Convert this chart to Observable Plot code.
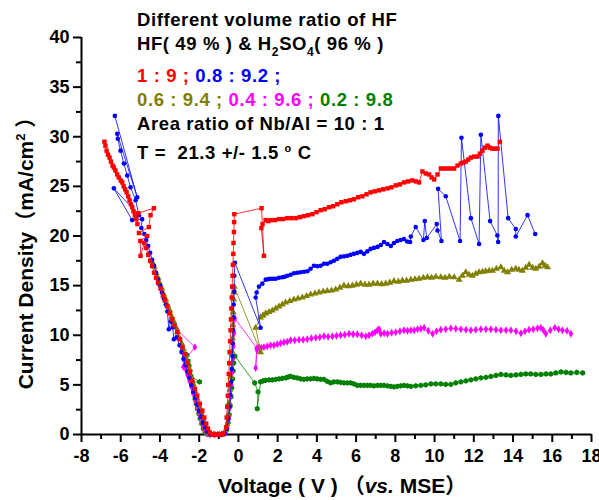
<!DOCTYPE html>
<html>
<head>
<meta charset="utf-8">
<script src="https://cdn.jsdelivr.net/npm/d3@7"></script>
<script src="https://cdn.jsdelivr.net/npm/@observablehq/plot@0.6"></script>
<style>
  html, body { margin: 0; padding: 0; background: #fff; }
  #chart svg { display: block; }
</style>
</head>
<body>
<div id="chart"></div>
<script>
// ---------- data: [voltage (V vs. MSE), current density (mA/cm2)] ----------
const ratio1_9 = [
[-6.83,29.5],[-6.78,29.1],[-6.72,28.6],[-6.65,28.2],[-6.57,27.9],[-6.5,27.5],[-6.42,27.1],[-6.35,26.9],[-6.27,26.6],[-6.18,26.2],
[-6.1,25.9],[-6.0,25.6],[-5.92,25.4],[-5.85,25.0],[-5.77,24.7],[-5.7,24.4],[-5.62,24.0],[-5.55,23.6],[-5.48,23.2],[-5.41,22.9],
[-5.35,22.5],[-5.28,22.1],[-5.22,21.7],[-5.15,21.2],[-5.1,22.3],[-4.31,22.8],[-4.48,22.1],[-4.57,20.9],[-5.07,20.3],[-4.65,20.0],
[-5.0,19.5],[-4.99,18.0],[-4.8,19.3],[-4.7,18.8],[-4.6,18.1],[-4.5,17.5],[-4.4,17.0],[-4.3,16.3],[-4.2,15.8],[-4.1,15.3],
[-3.97,14.7],[-3.85,14.0],[-3.75,13.5],[-3.63,12.9],[-3.5,12.2],[-3.38,11.6],[-3.26,11.0],[-3.12,10.3],[-2.98,9.6],[-2.85,8.8],
[-2.73,8.1],[-2.6,7.2],[-2.48,6.3],[-2.35,5.4],[-2.22,4.6],[-2.1,3.9],[-1.97,3.1],[-1.84,2.4],[-1.74,1.7],[-1.64,1.1],
[-1.55,0.6],[-1.45,0.2],[-1.35,0],[-1.2,0],[-1.05,0],[-0.9,0],[-0.75,0.1],[-0.62,0.7],[-0.6,1.7],[-0.57,2.8],
[-0.54,3.9],[-0.52,5.0],[-0.49,6.1],[-0.47,7.2],[-0.45,8.3],[-0.42,9.4],[-0.4,10.5],[-0.38,11.6],[-0.36,12.7],[-0.34,13.8],
[-0.32,14.9],[-0.3,16.0],[-0.28,17.1],[-0.26,18.2],[-0.25,19.3],[-0.23,20.4],[-0.22,21.4],[-0.21,22.2],[1.18,22.8],[1.3,18.0],
[1.17,20.8],[1.23,21.2],[1.39,21.6],[1.52,21.5],[1.64,21.6],[1.85,21.6],[2.07,21.7],[2.28,21.7],[2.49,21.8],[2.7,21.8],
[2.92,21.8],[3.13,21.9],[3.34,22.0],[3.55,22.1],[3.77,22.2],[3.98,22.4],[4.19,22.6],[4.4,22.7],[4.62,22.9],[4.83,23.0],
[5.04,23.2],[5.25,23.4],[5.47,23.5],[5.68,23.6],[5.89,23.7],[6.1,23.9],[6.32,24.0],[6.53,24.2],[6.74,24.4],[6.95,24.5],
[7.17,24.6],[7.38,24.7],[7.6,24.8],[7.8,24.9],[8.02,25.1],[8.23,25.2],[8.44,25.4],[8.65,25.5],[8.87,25.6],[9.05,25.5],
[9.21,25.4],[9.38,26.5],[9.55,26.3],[9.72,26.2],[9.85,25.9],[9.98,25.7],[10.15,26.2],[10.32,26.8],[10.49,26.8],[10.66,26.8],
[10.83,26.8],[11.0,26.8],[11.17,27.1],[11.34,27.3],[11.47,27.4],[11.59,27.5],[11.72,27.7],[11.85,27.9],[12.02,28.0],[12.19,28.0],
[12.31,28.3],[12.44,28.6],[12.57,28.9],[12.7,29.1],[12.82,28.9],[12.95,28.8],[13.08,28.8],[13.21,28.8],[13.33,29.5]
];

const ratio08_92 = [
[-6.3,32.1],[-5.16,23.9],[-6.18,30.3],[-6.15,29.8],[-6.01,28.6],[-5.84,27.3],[-5.67,26.1],[-5.5,24.9],[-5.24,23.6],[-5.07,22.1],
[-6.35,24.8],[-5.42,21.6],[-4.91,21.7],[-4.95,20.8],[-4.8,20.2],[-4.7,19.6],[-4.6,19.0],[-4.5,18.3],[-4.4,17.6],[-4.3,17.0],
[-4.2,16.3],[-4.1,15.6],[-4.0,15.0],[-3.9,14.3],[-3.8,13.7],[-3.7,13.1],[-3.62,12.4],[-3.55,10.6],[-3.45,11.4],[-3.35,10.8],
[-3.29,9.6],[-3.15,9.8],[-3.0,9.0],[-2.9,8.3],[-2.8,7.6],[-2.7,7.0],[-2.6,6.3],[-2.5,5.7],[-2.4,5.0],[-2.3,4.3],
[-2.2,3.7],[-2.1,3.0],[-2.0,2.4],[-1.9,1.8],[-1.8,1.2],[-1.7,0.7],[-1.6,0.3],[-1.45,0.05],[-1.3,0],[-1.1,0],
[-0.9,0],[-0.7,0.1],[-0.58,0.6],[-0.5,1.6],[-0.45,2.8],[-0.41,4.0],[-0.37,5.3],[-0.34,6.6],[-0.31,7.9],[-0.29,9.2],
[-0.27,10.5],[-0.25,11.8],[-0.24,13.1],[-0.22,14.4],[-0.21,16.0],[-0.18,17.3],[1.13,10.75],[0.88,13.8],[0.93,14.3],[1.05,14.9],
[1.22,15.2],[1.39,15.6],[1.52,15.65],[1.64,15.7],[1.77,15.7],[1.9,15.7],[2.07,15.8],[2.24,15.85],[2.36,15.9],[2.49,16.0],
[2.66,16.1],[2.83,16.25],[3.0,16.3],[3.17,16.35],[3.35,16.4],[3.52,16.45],[3.68,16.7],[3.85,17.0],[4.02,16.95],[4.19,17.0],
[4.36,17.2],[4.53,17.2],[4.7,17.35],[4.87,17.5],[5.04,17.7],[5.21,17.9],[5.38,17.95],[5.55,18.0],[5.72,18.1],[5.89,18.2],
[6.06,18.3],[6.23,18.4],[6.4,18.2],[6.57,18.45],[6.74,18.7],[6.91,18.8],[7.09,18.9],[7.26,19.1],[7.42,19.4],[7.6,19.2],
[7.77,19.0],[7.93,19.3],[8.1,19.5],[8.27,19.6],[8.44,19.7],[8.6,19.45],[8.75,19.4],[8.79,19.95],[9.04,20.9],[9.43,19.6],
[9.5,21.5],[9.6,19.8],[10.11,21.2],[10.15,20.55],[10.35,19.5],[10.18,24.75],[10.57,24.0],[11.3,19.5],[11.37,29.9],[11.85,21.8],
[12.27,19.2],[12.36,30.2],[12.83,21.5],[13.2,20.05],[13.24,19.4],[13.25,32.1],[13.75,21.8],[14.14,20.7],[14.14,19.95],[14.74,22.1],
[15.13,20.2]
];

const ratio06_94 = [
[-4.4,17.4],[-4.3,16.9],[-4.2,16.3],[-4.1,15.8],[-4.0,15.2],[-3.9,14.7],[-3.8,14.1],[-3.7,13.6],[-3.6,13.0],[-3.5,12.5],
[-3.4,11.9],[-3.3,11.4],[-3.2,10.8],[-3.1,10.3],[-3.0,9.7],[-2.9,9.2],[-2.8,8.6],[-2.7,8.0],[-2.6,7.3],[-2.5,6.6],
[-2.4,5.8],[-2.3,5.1],[-2.2,4.3],[-2.1,3.6],[-2.0,2.8],[-1.9,2.1],[-1.8,1.4],[-1.7,0.7],[-1.6,0.2],[-1.45,0],
[-1.25,0],[-1.05,0],[-0.85,0],[-0.68,0.3],[-0.58,1.0],[-0.52,2.0],[-0.47,3.2],[-0.43,4.5],[-0.39,5.8],[-0.36,7.1],
[-0.33,8.4],[-0.3,9.7],[-0.28,11.0],[-0.26,12.3],[-0.24,13.6],[-0.23,14.3],[-0.21,14.9],[1.13,8.3],[0.88,10.75],[1.13,11.8],
[1.26,12.0],[1.39,12.2],[1.56,12.35],[1.73,12.5],[1.9,12.7],[2.07,12.9],[2.24,13.1],[2.41,13.3],[2.62,13.45],[2.83,13.6],
[3.04,13.7],[3.26,13.8],[3.47,13.95],[3.68,14.1],[3.9,14.2],[4.11,14.3],[4.32,14.4],[4.53,14.45],[4.75,14.5],[4.96,14.6],
[5.17,14.8],[5.38,15.0],[5.6,14.95],[5.81,15.0],[6.02,15.1],[6.23,15.2],[6.45,15.1],[6.66,15.1],[6.87,15.2],[7.09,15.2],
[7.3,15.15],[7.51,15.2],[7.72,15.3],[7.93,15.45],[8.15,15.4],[8.36,15.5],[8.57,15.5],[8.79,15.6],[9.0,15.65],[9.21,15.7],
[9.43,15.8],[9.64,15.85],[9.85,15.8],[10.06,15.9],[10.32,15.85],[10.53,15.8],[10.75,15.9],[11.0,15.85],[11.25,15.6],[11.42,16.0],
[11.59,16.35],[11.76,16.1],[11.93,16.0],[12.1,16.2],[12.27,16.35],[12.44,16.4],[12.6,16.45],[12.78,16.5],[12.95,16.5],[13.15,16.7],
[13.38,16.85],[13.55,16.5],[13.72,16.35],[13.93,16.6],[14.14,16.7],[14.3,16.6],[14.48,16.5],[14.65,16.8],[14.82,17.1],[15.0,16.8],
[15.16,16.7],[15.33,16.9],[15.5,17.25],[15.63,17.0],[15.76,16.85]
];

const ratio04_96 = [
[-3.29,11.15],[-3.2,10.8],[-3.1,10.5],[-2.22,8.8],[-2.75,7.4],[-2.81,6.8],[-2.69,6.6],[-2.6,6.0],[-2.5,5.4],[-2.4,4.8],
[-2.3,4.1],[-2.2,3.4],[-2.1,2.7],[-2.0,2.0],[-1.9,1.4],[-1.8,0.8],[-1.7,0.4],[-1.6,0.1],[-1.45,0],[-1.2,0],
[-0.95,0],[-0.75,0.1],[-0.6,0.6],[-0.52,1.5],[-0.46,2.6],[-0.41,3.8],[-0.36,5.0],[-0.32,6.3],[-0.28,7.6],[-0.25,8.9],
[-0.22,10.2],[-0.18,11.7],[0.93,8.7],[0.88,6.7],[0.95,8.5],[1.05,8.8],[1.17,8.75],[1.3,8.8],[1.47,8.9],[1.64,9.0],
[1.81,9.0],[1.98,9.1],[2.15,9.2],[2.32,9.3],[2.49,9.35],[2.66,9.5],[2.87,9.5],[3.09,9.55],[3.3,9.55],[3.51,9.6],
[3.72,9.7],[3.94,9.75],[4.15,9.8],[4.36,9.9],[4.57,9.85],[4.79,9.9],[5.0,9.95],[5.21,10.0],[5.42,10.05],[5.64,10.15],
[5.85,10.1],[6.06,10.1],[6.28,10.0],[6.49,9.9],[6.66,10.0],[6.83,10.15],[6.96,10.3],[7.09,10.5],[7.18,10.6],[7.26,10.15],
[7.43,10.2],[7.6,10.15],[7.81,10.25],[8.02,10.3],[8.23,10.4],[8.44,10.5],[8.62,10.45],[8.79,10.5],[8.96,10.5],[9.13,10.6],
[9.3,10.65],[9.47,10.75],[9.68,10.45],[9.9,10.15],[10.1,10.4],[10.32,10.55],[10.57,10.6],[10.83,10.7],[11.08,10.65],[11.34,10.6],
[11.6,10.55],[11.85,10.5],[12.1,10.55],[12.36,10.6],[12.62,10.6],[12.87,10.6],[13.13,10.55],[13.38,10.5],[13.64,10.5],[13.89,10.5],
[14.15,10.4],[14.4,10.2],[14.61,10.4],[14.82,10.55],[15.03,10.6],[15.25,10.7],[15.42,10.75],[15.55,10.5],[15.67,10.15],[15.9,10.5],
[16.13,10.75],[16.32,10.6],[16.52,10.5],[16.75,10.45],[16.95,10.15]
];

const ratio02_98 = [
[-2.62,8.0],[-2.57,7.4],[-2.52,6.9],[-2.47,6.4],[-2.42,5.9],[-1.98,5.3],[-2.38,5.3],[-2.33,4.8],[-2.27,4.2],[-2.21,3.6],
[-2.15,3.1],[-2.09,2.6],[-2.02,2.1],[-1.95,1.6],[-1.87,1.1],[-1.79,0.6],[-1.7,0.25],[-1.6,0.05],[-1.45,0],[-1.25,0],
[-1.05,0],[-0.85,0],[-0.7,0.1],[-0.6,0.5],[-0.53,1.2],[-0.47,2.0],[-0.42,2.9],[-0.38,3.8],[-0.34,4.7],[-0.3,5.6],
[-0.27,6.4],[-0.24,7.2],[-0.18,7.9],[0.83,5.2],[1.0,4.3],[0.96,2.6],[1.13,5.3],[1.26,5.4],[1.39,5.45],[1.56,5.5],
[1.73,5.5],[1.9,5.55],[2.07,5.6],[2.24,5.65],[2.41,5.7],[2.54,5.8],[2.66,5.85],[2.83,5.75],[3.0,5.7],[3.17,5.6],
[3.34,5.55],[3.51,5.6],[3.68,5.6],[3.85,5.65],[4.02,5.6],[4.19,5.55],[4.36,5.55],[4.53,5.35],[4.7,5.2],[4.87,5.3],
[5.05,5.3],[5.21,5.25],[5.38,5.2],[5.55,5.2],[5.72,5.2],[5.89,5.1],[6.06,4.95],[6.23,4.95],[6.4,4.95],[6.57,4.95],
[6.74,4.95],[6.91,4.9],[7.09,4.95],[7.26,4.95],[7.42,4.95],[7.6,4.9],[7.77,4.85],[7.93,4.8],[8.1,4.85],[8.27,4.9],
[8.44,4.95],[8.62,4.9],[8.79,4.85],[9.04,4.9],[9.3,4.95],[9.55,5.0],[9.81,5.1],[10.06,5.1],[10.32,5.1],[10.57,5.05],
[10.83,5.05],[11.08,5.2],[11.34,5.3],[11.6,5.4],[11.85,5.5],[12.1,5.6],[12.36,5.7],[12.62,5.75],[12.87,5.85],[13.13,5.95],
[13.38,6.05],[13.64,6.0],[13.89,5.95],[14.15,6.0],[14.4,6.05],[14.65,6.1],[14.9,6.1],[15.16,6.05],[15.42,6.05],[15.68,6.1],
[15.93,6.1],[16.18,6.2],[16.44,6.3],[16.7,6.25],[16.95,6.2],[17.25,6.25],[17.55,6.2]
];

// tick values
const xMajorTicks = [-8,-6,-4,-2,0,2,4,6,8,10,12,14,16,18];
const xMinorTicks = [-7,-5,-3,-1,1,3,5,7,9,11,13,15,17];
const yMajorTicks = [0,5,10,15,20,25,30,35,40];
const yMinorTicks = [2.5,7.5,12.5,17.5,22.5,27.5,32.5,37.5];

// series: name, data, colour, symbol, radius (drawing order)
const seriesNames   = ["0.2 : 9.8", "0.4 : 9.6", "0.6 : 9.4", "0.8 : 9.2", "1 : 9"];
const seriesData    = [ratio02_98, ratio04_96, ratio06_94, ratio08_92, ratio1_9];
const seriesColors  = ["#008000", "#ff00ff", "#808000", "#0000ff", "#ff0000"];
const seriesSymbols = ["hexagon", "diamond", "triangle", "circle", "square"];
const seriesRadius  = [2.5, 2.4, 2.6, 2.3, 2.5];

// texts
const titleLine1 = "Different volume ratio of HF";
const xLabel = "Voltage ( V )";
const yLabel = "Current Density";

// ---------- chart ----------
const FONT = "'Liberation Sans', Arial, Helvetica, sans-serif";
const CJK = "'Noto Sans CJK SC', sans-serif";
const marks = [
  Plot.axisY(yMajorTicks, {tickSize: 8, tickPadding: 4, strokeWidth: 2, label: null, tickFormat: d => String(d)}),
  Plot.axisY(yMinorTicks, {tickSize: 5, strokeWidth: 2, label: null, tickFormat: () => ""}),
  Plot.axisX(xMajorTicks, {tickSize: 8, tickPadding: 7, strokeWidth: 2, label: null, tickFormat: d => String(d)}),
  Plot.axisX(xMinorTicks, {tickSize: 5, strokeWidth: 2, label: null, tickFormat: () => ""}),
  Plot.ruleX([-8], {stroke: "black", strokeWidth: 2}),
  Plot.ruleY([0], {stroke: "black", strokeWidth: 2})
];
seriesData.forEach((data, i) => {
  marks.push(Plot.line(data, {x: d => d[0], y: d => d[1], stroke: seriesColors[i], strokeWidth: 0.8}));
  marks.push(Plot.dot(data, {x: d => d[0], y: d => d[1], fill: seriesColors[i], stroke: "none", symbol: seriesSymbols[i], r: seriesRadius[i]}));
});

const plot = Plot.plot({
  width: 599,
  height: 500,
  marginLeft: 81,
  marginRight: 8,
  marginTop: 37,
  marginBottom: 66,
  x: {domain: [-8, 18]},
  y: {domain: [0, 40]},
  style: {fontFamily: FONT, fontSize: "18px", fontWeight: "bold", color: "black", background: "white", overflow: "visible"},
  marks
});
document.getElementById("chart").appendChild(plot);

// ---------- overlaid text ----------
const svg = d3.select(plot);
function addLine(x, y, parts, size, extra, spacing) {
  const t = svg.append("text")
    .attr("x", x).attr("y", y)
    .attr("text-anchor", "start")
    .attr("font-family", FONT).attr("font-size", size).attr("font-weight", "bold")
    .attr("fill", "black");
  if (spacing) t.attr("letter-spacing", spacing);
  if (extra) extra(t);
  let shift = 0;
  for (const p of parts) {
    const s = t.append("tspan").text(p.t);
    const target = p.shift || 0;
    if (target !== shift) { s.attr("dy", target - shift); shift = target; }
    if (p.fill) s.attr("fill", p.fill);
    if (p.size) s.attr("font-size", p.size);
    if (p.italic) s.attr("font-style", "italic");
    if (p.family) s.attr("font-family", p.family);
  }
  return t;
}
const LS = 18.5, SP = 0.6;
addLine(137, 26, [{t: titleLine1}], LS, null, SP);
addLine(137, 50, [{t: "HF( 49 % ) & H"}, {t: "2", shift: 6, size: 12}, {t: "SO"}, {t: "4", shift: 6, size: 12}, {t: "( 96 % )"}], LS, null, SP);
addLine(137, 82, [{t: "1 : 9 ; ", fill: seriesColors[4]}, {t: "0.8 : 9.2 ;", fill: seriesColors[3]}], LS, null, SP);
addLine(137, 106, [{t: "0.6 : 9.4 ; ", fill: seriesColors[2]}, {t: "0.4 : 9.6 ; ", fill: seriesColors[1]}, {t: "0.2 : 9.8", fill: seriesColors[0]}], LS, null, SP);
addLine(137, 130, [{t: "Area ratio of Nb/Al = 10 : 1"}], LS, null, SP);
addLine(137, 159, [{t: "T =  21.3 +/- 1.5 "}, {t: "o", shift: -7, size: 11}, {t: " C"}], LS, null, SP);

// axis labels
addLine(218, 493, [{t: xLabel + " "}, {t: "（", family: CJK}, {t: "vs.", italic: true}, {t: " MSE"}, {t: "）", family: CJK}], 21);
addLine(0, 0, [{t: yLabel}, {t: "（", family: CJK}, {t: "mA/cm"}, {t: "2", shift: -8, size: 13}, {t: " ", shift: 0}, {t: "）", family: CJK}], 21,
  t => t.attr("transform", "translate(33,248) rotate(-90)").attr("text-anchor", "middle"));
</script>
</body>
</html>
